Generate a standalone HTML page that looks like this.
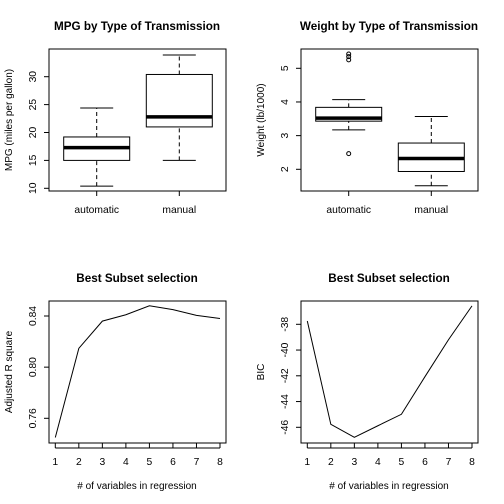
<!DOCTYPE html>
<html><head><meta charset="utf-8"><style>body{margin:0;background:#fff}svg{display:block;font-family:"Liberation Sans",Arial,sans-serif}</style></head>
<body>
<svg id="c" width="504" height="504" viewBox="0 0 504 504"></svg>
<script>
const boxCats = ["automatic","manual"];
const mpgStats = [[10.4,15.0,17.3,19.2,24.4],[15.0,21.0,22.8,30.4,33.9]];
const mpgOut = [[],[]];
const mpgTicks = [10,15,20,25,30];
const wtStats = [[3.17,3.43,3.52,3.84,4.07],[1.513,1.935,2.32,2.78,3.57]];
const wtOut = [[5.25,5.345,5.424,2.465],[]];
const wtTicks = [2,3,4,5];
const nVars = [1,2,3,4,5,6,7,8];
const adjR2 = [0.745,0.8147,0.836,0.841,0.848,0.845,0.8405,0.838];
const r2Ticks = [0.76,0.80,0.84];
const bicVals = [-37.74,-45.77,-46.78,-45.88,-44.99,-42.07,-39.2,-36.57];
const bicTicks = [-46,-44,-42,-40,-38];

const svg=document.getElementById('c');
const NS='http://www.w3.org/2000/svg';
function mk(t,a,txt,p){const e=document.createElementNS(NS,t);for(const k in a)e.setAttribute(k,a[k]);if(txt!==undefined)e.textContent=txt;(p||svg).appendChild(e);return e;}

function panel(ox,oy,title,ylab,xlab,yScale,yTicks,fmt,xTickList,xScale,name){
  const g=mk('g',{});
  
  
  const L=ox+49,R=ox+226,T=oy+49,B=oy+191;
  const t=mk('text',{x:ox+137,y:oy+30,'text-anchor':'middle','font-size':11.7,'font-weight':'bold'},title,g);
  
  const f=mk('rect',{x:L,y:T,width:R-L,height:B-T,fill:'none',stroke:'#000','stroke-width':1},undefined,g);
  
  yTicks.forEach(v=>{const y=yScale(v);
    mk('line',{x1:L,x2:L-5,y1:y,y2:y,stroke:'#000'},undefined,g);
    const tl=mk('text',{x:0,y:0,'text-anchor':'middle','font-size':10.3,transform:`translate(${ox+36},${y}) rotate(-90)`},fmt(v),g);
    });
  xTickList.forEach((v,i)=>{const x=xScale(v,i);
    mk('line',{x1:x,x2:x,y1:B,y2:B+5,stroke:'#000'},undefined,g);
    const tl=mk('text',{x:x,y:B+22,'text-anchor':'middle','font-size':10.3},String(v),g);
    });
  if(xTickList.length>2){mk('line',{x1:xScale(xTickList[0],0),x2:xScale(xTickList[xTickList.length-1],xTickList.length-1),y1:B+5,y2:B+5,stroke:'#000'},undefined,g);}
  const yl=mk('text',{x:0,y:0,'text-anchor':'middle','font-size':10,transform:`translate(${ox+12},${(T+B)/2}) rotate(-90)`},ylab,g);
  
  if(xlab){const xl=mk('text',{x:ox+137,y:oy+237,'text-anchor':'middle','font-size':10},xlab,g);
    }
  return {g,L,R,T,B};
}

function boxplot(ox,oy,title,ylab,stats,outs,ticks,y0,v0,y1,v1,name){
  const ys=v=>y0+(v-v0)*(y1-y0)/(v1-v0);
  const xs=(v,i)=>ox+96.7+i*82.6;
  const p=panel(ox,oy,title,ylab,null,ys,ticks,v=>String(v),boxCats,xs,name);
  stats.forEach((s,i)=>{const cx=xs(0,i),hw=33;
    const bg=mk('g',{},undefined,p.g);
    
    mk('line',{x1:cx,x2:cx,y1:ys(s[0]),y2:ys(s[1]),stroke:'#000','stroke-dasharray':'4,3'},undefined,bg);
    mk('line',{x1:cx,x2:cx,y1:ys(s[3]),y2:ys(s[4]),stroke:'#000','stroke-dasharray':'4,3'},undefined,bg);
    mk('line',{x1:cx-16.5,x2:cx+16.5,y1:ys(s[0]),y2:ys(s[0]),stroke:'#000'},undefined,bg);
    mk('line',{x1:cx-16.5,x2:cx+16.5,y1:ys(s[4]),y2:ys(s[4]),stroke:'#000'},undefined,bg);
    mk('rect',{x:cx-hw,y:ys(s[3]),width:2*hw,height:ys(s[1])-ys(s[3]),fill:'#fff',stroke:'#000'},undefined,bg);
    mk('line',{x1:cx-hw,x2:cx+hw,y1:ys(s[2]),y2:ys(s[2]),stroke:'#000','stroke-width':3.5},undefined,bg);
    outs[i].forEach(v=>{const c=mk('circle',{cx:cx,cy:ys(v),r:2,fill:'none',stroke:'#000'},undefined,bg);
      });
  });
}

function linePanel(ox,oy,ylab,vals,ticks,y0,v0,y1,v1,fmt,name){
  const ys=v=>y0+(v-v0)*(y1-y0)/(v1-v0);
  const xs=v=>ox+55.3+(v-1)*(220-55.3)/7;
  const p=panel(ox,oy,'Best Subset selection',ylab,'# of variables in regression',ys,ticks,fmt,nVars,xs,name);
  const pl=mk('polyline',{points:nVars.map((n,i)=>xs(n)+','+ys(vals[i])).join(' '),fill:'none',stroke:'#000','stroke-width':1},undefined,p.g);
  
}

boxplot(0,0,'MPG by Type of Transmission','MPG (miles per gallon)',mpgStats,mpgOut,mpgTicks,188.3,10,76.7,30,'mpg-boxplot-panel');
boxplot(252,0,'Weight by Type of Transmission','Weight (lb/1000)',wtStats,wtOut,wtTicks,169.3,2,68.3,5,'weight-boxplot-panel');
linePanel(0,252,'Adjusted R square',adjR2,r2Ticks,418.3,0.76,316,0.84,v=>v.toFixed(2),'adjr2-panel');
linePanel(252,252,'BIC',bicVals,bicTicks,427.3,-46,324.3,-38,v=>String(v),'bic-panel');
</script>
</body></html>
